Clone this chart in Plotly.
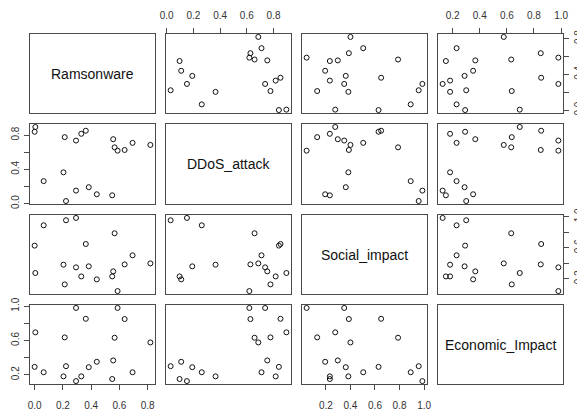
import plotly.graph_objects as go

# ---- data (19 observations) ----
var_names = ["Ramsonware", "DDoS_attack", "Social_impact", "Economic_Impact"]
ramsonware = [0.005, 0.0, 0.213, 0.293, 0.330, 0.362, 0.556, 0.566, 0.587, 0.637,
              0.693, 0.819, 0.204, 0.064, 0.293, 0.383, 0.440, 0.549, 0.222]
ddos_attack = [0.896, 0.840, 0.777, 0.737, 0.816, 0.852, 0.753, 0.658, 0.619, 0.627,
               0.710, 0.686, 0.366, 0.263, 0.152, 0.192, 0.109, 0.097, 0.030]
social_impact = [0.276, 0.629, 0.129, 0.349, 0.232, 0.650, 0.297, 0.788, 0.043, 0.387,
                 0.504, 0.400, 0.383, 0.891, 0.986, 0.362, 0.194, 0.232, 0.956]
economic_impact = [0.695, 0.292, 0.636, 0.980, 0.181, 0.853, 0.367, 0.632, 0.980, 0.850,
                   0.229, 0.577, 0.181, 0.229, 0.126, 0.288, 0.351, 0.150, 0.300]

tick_vals = [[0.0, 0.2, 0.4, 0.6, 0.8], [0.0, 0.2, 0.4, 0.6, 0.8],
             [0.2, 0.4, 0.6, 0.8, 1.0], [0.2, 0.4, 0.6, 0.8, 1.0]]
tick_text_full = [["0.0", "0.2", "0.4", "0.6", "0.8"], ["0.0", "0.2", "0.4", "0.6", "0.8"],
                  ["0.2", "0.4", "0.6", "0.8", "1.0"], ["0.2", "0.4", "0.6", "0.8", "1.0"]]
tick_text_alt = [["0.0", "", "0.4", "", "0.8"], ["0.0", "", "0.4", "", "0.8"],
                 ["0.2", "", "0.6", "", "1.0"], ["0.2", "", "0.6", "", "1.0"]]

data = [ramsonware, ddos_attack, social_impact, economic_impact]

# page body adds an 8px margin, so the figure is laid out 8px smaller
W, H = 577, 402
col_px = [(22, 147), (158, 283), (294, 419), (430, 555)]
row_px = [(26, 105), (116, 196), (207, 286), (297, 376)]

def rng(v):
    lo, hi = min(v), max(v)
    d = hi - lo
    return [lo - 0.04 * d, hi + 0.04 * d]

FONT = "Liberation Sans, Arial, sans-serif"
LINE = "#4a4a4a"
tickfont = dict(family=FONT, size=10, color="#333333")

fig = go.Figure()
layout = {}
annotations = []
for i in range(4):
    for j in range(4):
        k = i * 4 + j + 1
        sfx = "" if k == 1 else str(k)
        xa, ya = "x" + sfx, "y" + sfx
        if i != j:
            fig.add_trace(go.Scatter(
                x=data[j], y=data[i], mode="markers", xaxis=xa, yaxis=ya,
                marker=dict(symbol="circle-open", size=5, color="#111111",
                            line=dict(width=1, color="#111111")),
                showlegend=False, hoverinfo="skip"))
        else:
            fig.add_trace(go.Scatter(x=[], y=[], xaxis=xa, yaxis=ya, showlegend=False))
            annotations.append(dict(
                x=0.5, y=0.5, xref=xa + " domain", yref=ya + " domain",
                xanchor="center", yanchor="middle",
                text=var_names[i], showarrow=False,
                font=dict(family=FONT, size=14, color="#111111")))
        xd = [col_px[j][0] / W, col_px[j][1] / W]
        yd = [1 - row_px[i][1] / H, 1 - row_px[i][0] / H]
        xax = dict(domain=xd, anchor=ya, range=rng(data[j]), showgrid=False,
                   zeroline=False, showline=True, mirror=True, linecolor=LINE,
                   linewidth=1, fixedrange=True, automargin=False)
        yax = dict(domain=yd, anchor=xa, range=rng(data[i]), showgrid=False,
                   zeroline=False, showline=True, mirror=True, linecolor=LINE,
                   linewidth=1, fixedrange=True, automargin=False)
        if (i == 0 and j in (1, 3)) or (i == 3 and j in (0, 2)):
            xax.update(side="top" if i == 0 else "bottom", ticks="outside", ticklen=5,
                       tickcolor=LINE, tickvals=tick_vals[j], ticktext=tick_text_full[j],
                       showticklabels=True, tickfont=tickfont,
                       ticklabelstandoff=5 if i == 0 else 7)
        else:
            xax.update(ticks="", showticklabels=False)
        if (j == 0 and i in (1, 3)) or (j == 3 and i in (0, 2)):
            yax.update(side="left" if j == 0 else "right", ticks="outside", ticklen=5,
                       tickcolor=LINE, tickvals=tick_vals[i], ticktext=tick_text_alt[i],
                       showticklabels=True, tickfont=tickfont, tickangle=-90,
                       ticklabelstandoff=1)
        else:
            yax.update(ticks="", showticklabels=False)
        layout["xaxis" + sfx] = xax
        layout["yaxis" + sfx] = yax

fig.update_layout(**layout)
fig.update_layout(width=W, height=H, autosize=False,
                  margin=dict(l=0, r=0, t=0, b=0),
                  paper_bgcolor="white", plot_bgcolor="white",
                  annotations=annotations, showlegend=False)
fig.write_html("out.html")
